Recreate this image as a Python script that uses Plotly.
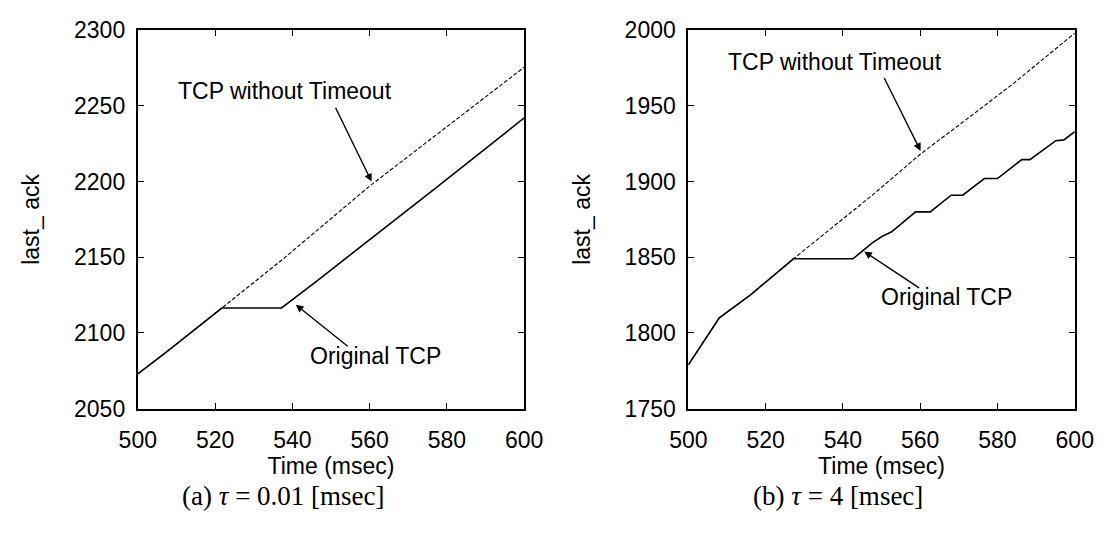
import plotly.graph_objects as go

# ---- data -------------------------------------------------------------
# (a) tau = 0.01 msec
time_a_original = [500, 507.2, 521.75, 537.2, 545.9, 576.75, 600]
ack_a_original = [2073, 2087, 2116.5, 2116.5, 2133.5, 2195, 2242]
time_a_no_timeout = [500, 507.2, 521.75, 537.2, 560, 600]
ack_a_no_timeout = [2073, 2087, 2116.5, 2148, 2197, 2275.5]

# (b) tau = 4 msec
time_b_original = [500, 508, 516, 519.3, 527.2, 542.6, 545.9, 547.6, 550.1, 552.6,
                   558.8, 562.6, 568, 571, 576.6, 580, 586.3, 588.4, 595.1, 597.2, 600]
ack_b_original = [1779, 1810, 1825, 1832, 1849, 1849, 1856, 1859.5, 1863.7, 1866.8,
                  1880, 1880, 1891, 1891, 1902, 1902, 1914.5, 1914.5, 1927, 1927.5, 1933]
time_b_no_timeout = [500, 508, 516, 519.3, 527.2, 547.6, 560, 575.3, 584.25, 600]
ack_b_no_timeout = [1779, 1810, 1825, 1832, 1849, 1891, 1918, 1947.5, 1965, 1998]

x_ticks = [500, 520, 540, 560, 580, 600]
y_ticks_a = [2050, 2100, 2150, 2200, 2250, 2300]
y_ticks_b = [1750, 1800, 1850, 1900, 1950, 2000]

W, H = 1115, 533
SANS = "Liberation Sans, Arial, Helvetica, sans-serif"
SERIF = "Liberation Serif, Times New Roman, serif"
FS = 23

fig = go.Figure()

dash_style = dict(color="black", width=1.1, dash="4px,2px")
solid_style = dict(color="black", width=1.6)

fig.add_trace(go.Scatter(x=time_a_no_timeout, y=ack_a_no_timeout, mode="lines",
                         line=dash_style, xaxis="x", yaxis="y", showlegend=False))
fig.add_trace(go.Scatter(x=time_a_original, y=ack_a_original, mode="lines",
                         line=solid_style, xaxis="x", yaxis="y", showlegend=False))
fig.add_trace(go.Scatter(x=time_b_no_timeout, y=ack_b_no_timeout, mode="lines",
                         line=dash_style, xaxis="x2", yaxis="y2", showlegend=False))
fig.add_trace(go.Scatter(x=time_b_original, y=ack_b_original, mode="lines",
                         line=solid_style, xaxis="x2", yaxis="y2", showlegend=False))

axis_common = dict(
    showline=True, linecolor="black", linewidth=2, mirror="ticks",
    ticks="inside", ticklen=6, tickwidth=1.4, tickcolor="black",
    showgrid=False, zeroline=False,
    tickfont=dict(family=SANS, size=FS, color="black"),
)

def px_to_paper_x(px):
    return px / W

def px_to_paper_y(py):
    return 1 - py / H

y_dom = [px_to_paper_y(416), px_to_paper_y(18)]
title_font = dict(family=SANS, size=FS, color="black")

fig.update_layout(
    width=W, height=H, autosize=False,
    margin=dict(l=0, r=0, t=0, b=0),
    paper_bgcolor="white", plot_bgcolor="white",
    font=dict(family=SANS, size=FS, color="black"),
    xaxis=dict(axis_common, domain=[px_to_paper_x(123), px_to_paper_x(523)],
               range=[500, 600], tickvals=x_ticks, anchor="y",
               ticklabelstandoff=10,
               title=dict(text="Time (msec)", standoff=0, font=title_font)),
    yaxis=dict(axis_common, domain=y_dom, range=[2050, 2300], tickvals=y_ticks_a,
               anchor="x", ticklabelstandoff=6,
               title=dict(text="last_ ack", standoff=28, font=title_font)),
    xaxis2=dict(axis_common, domain=[px_to_paper_x(693), px_to_paper_x(1093)],
                range=[500, 600], tickvals=x_ticks, anchor="y2",
                ticklabelstandoff=10,
                title=dict(text="Time (msec)", standoff=0, font=title_font)),
    yaxis2=dict(axis_common, domain=y_dom, range=[1750, 2000], tickvals=y_ticks_b,
                anchor="x2", ticklabelstandoff=6,
                title=dict(text="last_ ack", standoff=28, font=title_font)),
)

arrow_style = dict(showarrow=True, arrowhead=2, arrowsize=1.1, arrowwidth=1.4,
                   arrowcolor="black", text="", standoff=0)

# arrows (head at x,y; tail at ax,ay in data units)
fig.add_annotation(x=560.5, y=2200, ax=551, ay=2249.7, xref="x", yref="y",
                   axref="x", ayref="y", **arrow_style)
fig.add_annotation(x=540.9, y=2118.7, ax=554.7, ay=2090.4, xref="x", yref="y",
                   axref="x", ayref="y", **arrow_style)
fig.add_annotation(x=560.1, y=1920.2, ax=550.5, ay=1969.4, xref="x2", yref="y2",
                   axref="x2", ayref="y2", **arrow_style)
fig.add_annotation(x=545.5, y=1853.8, ax=560.1, ay=1829.1, xref="x2", yref="y2",
                   axref="x2", ayref="y2", **arrow_style)

label_font = dict(family=SANS, size=FS, color="black")
labels = [
    ("TCP without Timeout", 275, 82),
    ("Original TCP", 369, 361),
    ("TCP without Timeout", 845, 52),
    ("Original TCP", 960, 299),
]
for text, cx, cy in labels:
    fig.add_annotation(text=text, x=px_to_paper_x(cx), y=px_to_paper_y(cy),
                       xref="paper", yref="paper", xanchor="center", yanchor="middle",
                       showarrow=False, font=label_font)

caption_font = dict(family=SERIF, size=27, color="black")
captions = [
    ("(a) <i>τ</i> = 0.01 [msec]", 274, 508),
    ("(b) <i>τ</i> = 4 [msec]", 848, 508),
]
for text, cx, cy in captions:
    fig.add_annotation(text=text, x=px_to_paper_x(cx), y=px_to_paper_y(cy),
                       xref="paper", yref="paper", xanchor="center", yanchor="middle",
                       showarrow=False, font=caption_font)

fig.write_html("out.html")
